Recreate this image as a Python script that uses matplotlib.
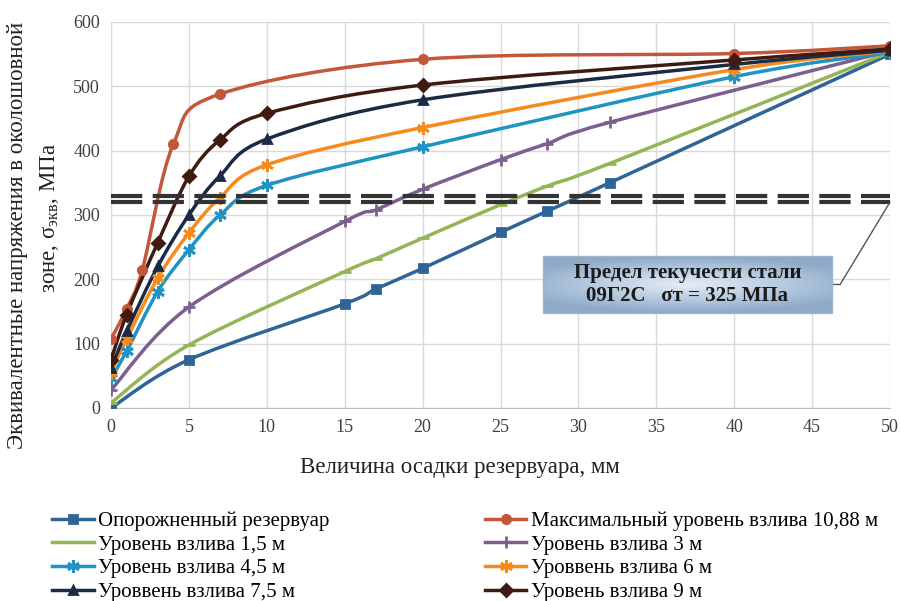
import numpy as np
import matplotlib
matplotlib.use("Agg")
import matplotlib.pyplot as plt
from matplotlib.path import Path
from matplotlib.patches import PathPatch, Rectangle
from matplotlib.lines import Line2D
from matplotlib.colors import LinearSegmentedColormap

plt.rcParams['font.family'] = ['Liberation Serif', 'DejaVu Serif']
plt.rcParams['mathtext.fontset'] = 'custom'
plt.rcParams['mathtext.rm'] = 'Liberation Serif'

# data (settlement, mm -> equivalent stress, MPa)
x_a = [0, 5, 15, 17, 20, 25, 28, 32, 50]
empty = [0, 75, 162, 185, 217, 273, 306, 350, 550]
lvl_15 = [8, 98, 212, 232, 264, 316, 345, 380, 553]
lvl_3 = [28, 157, 290, 308, 340, 386, 411, 444, 555]

x_b = [0, 1, 3, 5, 7, 10, 20, 40, 50]
lvl_45 = [46, 88, 181, 246, 300, 346, 406, 515, 553]
lvl_6 = [55, 107, 202, 272, 327, 378, 436, 526, 555]
lvl_75 = [62, 119, 220, 300, 361, 418, 479, 534, 556]
lvl_9 = [75, 145, 257, 360, 417, 458, 502, 541, 558]

x_max = [0, 1, 2, 4, 7, 20, 40, 50]
lvl_max = [107, 154, 214, 410, 488, 542, 551, 563]

yield_lo = 320
yield_hi = 330

asterisk = (6, 2, 0)
series = [
    ("Опорожненный резервуар", x_a, empty, '#2f6496', 's'),
    ("Максимальный уровень взлива 10,88 м", x_max, lvl_max, '#c4573a', 'o'),
    ("Уровень взлива 1,5 м", x_a, lvl_15, '#94b455', '_'),
    ("Уровень взлива 3 м", x_a, lvl_3, '#7d5f8f', '+'),
    ("Уровень взлива 4,5 м", x_b, lvl_45, '#1f93c4', asterisk),
    ("Уроввень взлива 6 м", x_b, lvl_6, '#f58a1f', asterisk),
    ("Уроввень взлива 7,5 м", x_b, lvl_75, '#1b2b45', '^'),
    ("Уровень взлива 9 м", x_b, lvl_9, '#3f1a10', 'D'),
]


def smooth_path(xs, ys):
    # excel-like smoothed line: cubic bezier through the points
    p = np.column_stack([xs, ys]).astype(float)
    n = len(p)
    verts = [p[0]]
    codes = [Path.MOVETO]
    for i in range(n - 1):
        p0 = p[i - 1] if i > 0 else p[i]
        p3 = p[i + 2] if i + 2 < n else p[i + 1]
        c1 = p[i] + (p[i + 1] - p0) / 6.0
        c2 = p[i + 1] - (p3 - p[i]) / 6.0
        verts += [c1, c2, p[i + 1]]
        codes += [Path.CURVE4] * 3
    return Path(verts, codes)


fig = plt.figure(figsize=(9.01, 6.01), dpi=100)
ax = fig.add_axes([111 / 901, 1 - 408 / 601, 779 / 901, 386 / 601])

ax.grid(True, color='#d9d9d9', lw=1)
ax.set_axisbelow(True)
for s in ['top', 'right']:
    ax.spines[s].set_visible(False)
ax.spines['left'].set_color('#d9d9d9')
ax.spines['bottom'].set_color('#bfbfbf')
ax.tick_params(length=0, labelsize=13, colors='#404040', pad=8)

handles = []
for name, xs, ys, col, mk in series:
    ax.add_patch(PathPatch(smooth_path(xs, ys), fill=False, edgecolor=col, lw=2.5, zorder=3))
    ms = 9 if mk in ('+', '_', asterisk) else 6
    ax.plot(xs, ys, linestyle='none', marker=mk, color=col, ms=ms, mew=2, zorder=4)
    handles.append(Line2D([], [], color=col, lw=2.5, marker=mk, ms=ms, mew=2))

# yield strength double dashed line
ax.axhline(yield_lo, color='#333333', lw=3, ls=(0, (7.5, 2.5)), zorder=5)
ax.axhline(yield_hi, color='#333333', lw=3, ls=(0, (7.5, 2.5)), zorder=5)

# callout box with soft gradient
bx0, bx1, by0, by1 = 27.7, 46.3, 148, 236
gx = np.linspace(-1, 1, 200)
gy = np.linspace(-1, 1, 60)
gxx, gyy = np.meshgrid(gx, gy)
grad = np.clip(np.sqrt((gxx * 0.8) ** 2 + gyy ** 2), 0, 1)
cmap = LinearSegmentedColormap.from_list('box', ['#e4ecf5', '#b9cce0', '#8eaac8'])
ax.imshow(grad, extent=[bx0, bx1, by0, by1], cmap=cmap, aspect='auto', zorder=6, origin='lower')
ax.add_patch(Rectangle((bx0, by0), bx1 - bx0, by1 - by0, fill=False, ec='#9fb5cc', lw=1, zorder=6))
ax.plot([bx1, 46.8, 50], [192, 192, 320], color='#555555', lw=1, zorder=5, clip_on=False)
ax.text((bx0 + bx1) / 2, (by0 + by1) / 2, "Предел текучести стали\n09Г2С   σт = 325 МПа",
        ha='center', va='center', fontsize=15, fontweight='bold', color='#1a1a1a',
        linespacing=1.25, zorder=7)

ax.set_xlim(0, 50)
ax.set_ylim(0, 600)
ax.set_xticks(range(0, 51, 5))
ax.set_yticks(range(0, 601, 100))

fig.text(460 / 901, 1 - 468 / 601, "Величина осадки резервуара, мм",
         ha='center', va='center', fontsize=16.5, color='#222222')
fig.text(18 / 901, 1 - 235 / 601, "Эквивалентные напряжения в околошовной",
         rotation=90, ha='center', va='center', fontsize=16.5, color='#222222')
fig.text(50 / 901, 1 - 218 / 601, r"зоне, σ$_{\mathrm{экв}}$, МПа",
         rotation=90, ha='center', va='center', fontsize=16.5, color='#222222')

# legend filled row by row (two columns)
order = [0, 2, 4, 6, 1, 3, 5, 7]
fig.legend([handles[i] for i in order], [series[i][0] for i in order], loc='upper left', ncol=2,
           bbox_to_anchor=(44 / 901, 1 - 503 / 601), frameon=False, fontsize=15,
           handlelength=2.0, handletextpad=0.2, columnspacing=7.45, labelspacing=0.2,
           borderaxespad=0)

fig.savefig("out.png", dpi=100)
